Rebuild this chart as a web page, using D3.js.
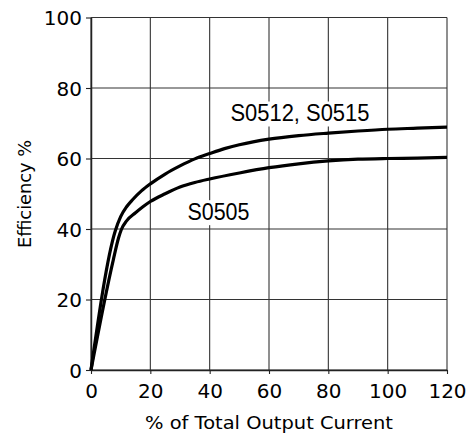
<!DOCTYPE html>
<html><head><meta charset="utf-8">
<script src="https://cdn.jsdelivr.net/npm/d3@7"></script>
<style>html,body{margin:0;padding:0;background:#fff;}svg{display:block;}</style>
</head><body>
<script>
const xTicks = [0, 20, 40, 60, 80, 100, 120];
const yTicks = [0, 20, 40, 60, 80, 100];
const upperX = [0, 8.2, 10, 12, 14, 17, 20, 25, 30, 35, 40, 45, 50, 60, 70, 80, 90, 100, 110, 120];
const upperY = [0, 39.5, 43.5, 46.3, 48.3, 50.8, 52.8, 55.6, 57.9, 59.9, 61.4, 62.8, 63.9, 65.5, 66.5, 67.2, 67.8, 68.3, 68.6, 68.9];
const lowerX = [0, 7.5, 9.3, 10.2, 12, 15, 17.5, 20, 25, 30, 35, 40, 50, 60, 70, 80, 90, 100, 110, 120];
const lowerY = [0, 31.2, 37.5, 39.8, 42.3, 44.6, 46.3, 47.8, 50.0, 51.9, 53.2, 54.2, 55.9, 57.4, 58.5, 59.3, 59.8, 60, 60.1, 60.3];
const seriesLabels = ["S0512, S0515", "S0505"];
const labelAt = [[47, 70.5], [32.5, 42.5]];
const xTitle = "% of Total Output Current";
const yTitle = "Efficiency %";

const W = 472, H = 441;
const svg = d3.select("body").append("svg").attr("width", W).attr("height", H);
const x = d3.scaleLinear().domain([0, 120]).range([91, 447]);
const y = d3.scaleLinear().domain([0, 100]).range([370, 17.5]);

const grid = svg.append("g").attr("stroke", "#333").attr("stroke-width", 1.1);
xTicks.forEach(t => grid.append("line").attr("x1", x(t)).attr("x2", x(t)).attr("y1", y(0)).attr("y2", y(100)));
yTicks.forEach(t => grid.append("line").attr("x1", x(0)).attr("x2", x(120)).attr("y1", y(t)).attr("y2", y(t)));

const xAxis = svg.append("g").attr("transform", `translate(0,${y(0)})`)
  .call(d3.axisBottom(x).tickValues(xTicks).tickSize(4).tickPadding(8).tickSizeOuter(0));
const yAxis = svg.append("g").attr("transform", `translate(${x(0)},0)`)
  .call(d3.axisLeft(y).tickValues(yTicks).tickSize(5).tickPadding(4).tickSizeOuter(0));
[xAxis, yAxis].forEach(a => {
  a.select(".domain").attr("stroke", "#222").attr("stroke-width", 1.5);
  a.selectAll(".tick line").attr("stroke", "#222").attr("stroke-width", 1.1);
  a.selectAll("text").attr("font-family", "DejaVu Sans").attr("font-size", 20).attr("fill", "#000");
});
xAxis.selectAll("text").attr("dy", null).attr("y", 28);
yAxis.selectAll("text").attr("dy", "0.36em");

const line = d3.line().x(d => x(d[0])).y(d => y(d[1])).curve(d3.curveMonotoneX);
const upper = upperX.map((v, i) => [v, upperY[i]]);
const lower = lowerX.map((v, i) => [v, lowerY[i]]);
[upper, lower].forEach(s => svg.append("path").datum(s).attr("d", line)
  .attr("fill", "none").attr("stroke", "#000").attr("stroke-width", 3.2).attr("stroke-linejoin", "round"));

const lens = [139, 62];
seriesLabels.forEach((lab, i) => {
  const g = svg.append("g");
  const t = g.append("text").attr("x", x(labelAt[i][0])).attr("y", y(labelAt[i][1]))
    .attr("font-family", "Liberation Sans").attr("font-size", 24)
    .attr("textLength", lens[i]).attr("lengthAdjust", "spacingAndGlyphs").text(lab);
  const b = t.node().getBBox();
  g.insert("rect", "text").attr("x", b.x - 2).attr("y", b.y + 2).attr("width", b.width + 4).attr("height", b.height - 2).attr("fill", "#fff");
});

svg.append("text").attr("x", x(60)).attr("y", 429).attr("text-anchor", "middle")
  .attr("font-family", "DejaVu Sans").attr("font-size", 17)
  .attr("textLength", 248).attr("lengthAdjust", "spacingAndGlyphs").text(xTitle);
svg.append("text").attr("transform", "translate(31,194) rotate(-90)").attr("text-anchor", "middle")
  .attr("font-family", "DejaVu Sans").attr("font-size", 18)
  .attr("textLength", 108).attr("lengthAdjust", "spacingAndGlyphs").text(yTitle);
</script>
</body></html>
